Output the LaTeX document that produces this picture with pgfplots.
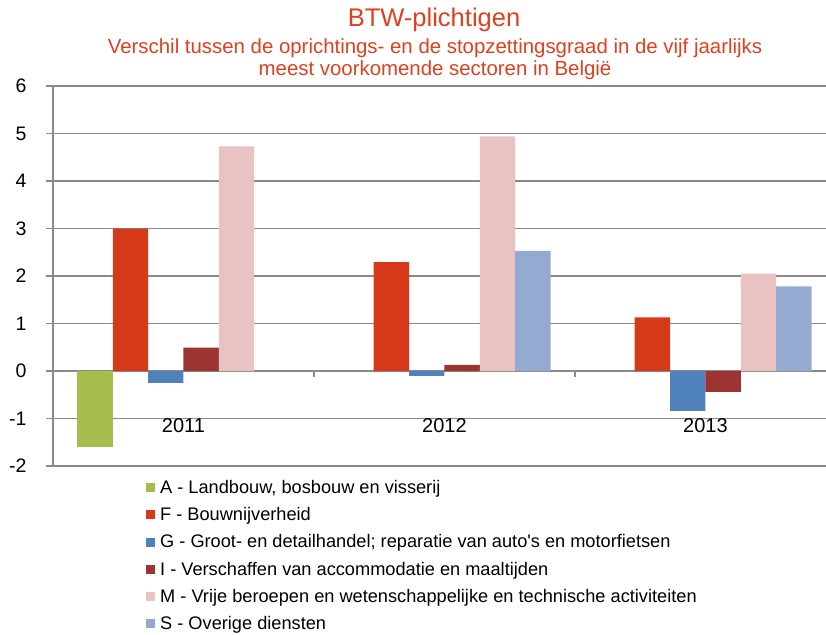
\documentclass[border=0pt]{standalone}
\usepackage{pgfplots}
\pgfplotsset{compat=1.18}
\usepackage{fontspec}
\setmainfont{Liberation Sans}
\definecolor{cA}{RGB}{166,188,76}
\definecolor{cF}{RGB}{214,57,24}
\definecolor{cG}{RGB}{79,129,189}
\definecolor{cI}{RGB}{157,52,50}
\definecolor{cM}{RGB}{233,194,194}
\definecolor{cS}{RGB}{149,170,208}
\definecolor{ttl}{RGB}{224,64,30}
\definecolor{grd}{RGB}{138,138,138}
\begin{document}
\begin{tikzpicture}
\useasboundingbox (-53pt,-168pt) rectangle (773pt,466pt);
\begin{axis}[
  at={(0,0)}, anchor=south west,
  scale only axis, width=773pt, height=380pt,
  ybar=0pt, bar width=0.1355,
  xmin=-0.5, xmax=2.462,
  ymin=-2, ymax=6,
  ytick={-2,-1,...,6},
  xtick={0,1,2}, xticklabels={2011,2012,2013},
  x axis line style={draw=none},
  axis y line*=left,
  y axis line style={grd, line width=1.3pt},
  every y tick/.style={grd, line width=1.3pt},
  major tick length=7pt,
  tick align=outside,
  xtick style={draw=none},
  ymajorgrids,
  grid style={grd, line width=1.3pt},
  yticklabel style={font=\fontsize{19.5}{22}\selectfont, xshift=-16pt},
  xticklabel style={font=\fontsize{20}{23}\selectfont, yshift=58pt},
  /pgf/number format/assume math mode=true,
  clip=false,
  legend style={at={(axis description cs:0.119,0)}, anchor=north west, yshift=-12pt,
    draw=none, fill=none, font=\fontsize{18.2}{21}\selectfont, row sep=8.6pt,
    cells={anchor=west}, inner sep=0pt},
  legend cell align=left,
  legend image code/.code={\fill[#1,draw=none] (1pt,-4.5pt) rectangle (10pt,4.5pt);
    \path (0pt,0pt) -- (13pt,0pt);},
]
\addplot[fill=cA, draw=none] coordinates {(0,-1.59)};
\addplot[fill=cF, draw=none] coordinates {(0,3.00) (1,2.29) (2,1.13)};
\addplot[fill=cG, draw=none] coordinates {(0,-0.25) (1,-0.10) (2,-0.84)};
\addplot[fill=cI, draw=none] coordinates {(0,0.49) (1,0.13) (2,-0.44)};
\addplot[fill=cM, draw=none] coordinates {(0,4.73) (1,4.94) (2,2.05)};
\addplot[fill=cS, draw=none] coordinates {(1,2.53) (2,1.78)};
\legend{{A - Landbouw, bosbouw en visserij},
{F - Bouwnijverheid},
{G - Groot- en detailhandel; reparatie van auto\textquotesingle s en motorfietsen},
{I - Verschaffen van accommodatie en maaltijden},
{M - Vrije beroepen en wetenschappelijke en technische activiteiten},
{S - Overige diensten}}
\draw[grd, line width=1.3pt] (axis cs:0.5,0) -- ([yshift=-6pt]axis cs:0.5,0);
\draw[grd, line width=1.3pt] (axis cs:1.5,0) -- ([yshift=-6pt]axis cs:1.5,0);
\end{axis}
\node[text=ttl, font=\fontsize{25.5}{28}\selectfont] at (381pt,446pt) {BTW-plichtigen};
\node[text=ttl, font=\fontsize{20.4}{23}\selectfont] at (382pt,418pt) {Verschil tussen de oprichtings- en de stopzettingsgraad in de vijf jaarlijks};
\node[text=ttl, font=\fontsize{20.4}{23}\selectfont] at (382pt,396pt) {meest voorkomende sectoren in België};
\end{tikzpicture}
\end{document}
